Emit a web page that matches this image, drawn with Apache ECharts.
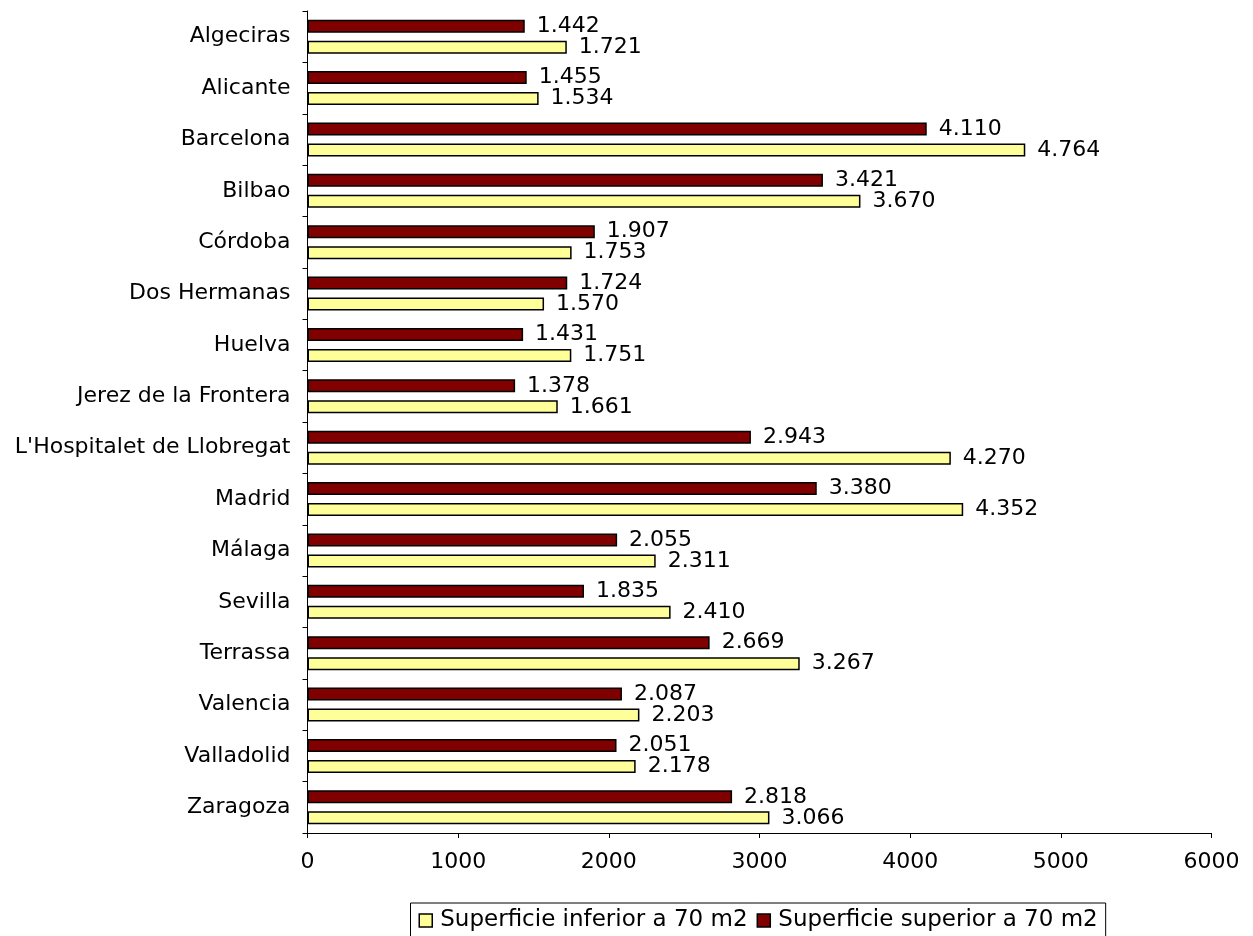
<!DOCTYPE html>
<html>
<head>
<meta charset="utf-8">
<script src="https://cdn.jsdelivr.net/npm/echarts@6/dist/echarts.min.js"></script>
<style>
  html, body { margin: 0; padding: 0; background: #fff; }
  #chart { width: 1253px; height: 936px; }
</style>
</head>
<body>
<div id="chart"></div>
<script>
// Cities, listed top to bottom
const cities = [
  'Algeciras', 'Alicante', 'Barcelona', 'Bilbao', 'Córdoba', 'Dos Hermanas',
  'Huelva', 'Jerez de la Frontera', "L'Hospitalet de Llobregat", 'Madrid',
  'Málaga', 'Sevilla', 'Terrassa', 'Valencia', 'Valladolid', 'Zaragoza'
];

const nameInferior = 'Superficie inferior a 70 m2';
const nameSuperior = 'Superficie superior a 70 m2';

// Dwellings over 70 m2
const superior = [1442, 1455, 4110, 3421, 1907, 1724, 1431, 1378, 2943, 3380, 2055, 1835, 2669, 2087, 2051, 2818];
// Dwellings under 70 m2
const inferior = [1721, 1534, 4764, 3670, 1753, 1570, 1751, 1661, 4270, 4352, 2311, 2410, 3267, 2203, 2178, 3066];

// Value axis
const xMin = 0, xMax = 6000, xStep = 1000;

const FONT = 'DejaVu Sans';
const FS = 22;

// Thousands separated by a dot: 1442 -> 1.442
function fmt(v) {
  return String(v).replace(/\B(?=(\d{3})+(?!\d))/g, '.');
}

const chart = echarts.init(document.getElementById('chart'), null, { renderer: 'canvas' });

function barSeries(name, data, color) {
  return {
    name: name,
    type: 'bar',
    data: data,
    barWidth: 13,
    barGap: '62%',
    itemStyle: { color: color, borderColor: '#000', borderWidth: 1.5 },
    label: {
      show: true,
      position: 'right',
      distance: 12,
      color: '#000',
      fontFamily: FONT,
      fontSize: FS,
      formatter: p => fmt(p.value)
    },
    emphasis: { disabled: true },
    animation: false
  };
}

chart.setOption({
  backgroundColor: '#fff',
  animation: false,
  textStyle: { fontFamily: FONT },
  grid: { left: 307.5, right: 41.5, top: 11, bottom: 103, containLabel: false },
  xAxis: {
    type: 'value',
    min: xMin, max: xMax, interval: xStep,
    axisLine: { show: true, lineStyle: { color: '#000', width: 1 } },
    axisTick: { show: true, length: 5, lineStyle: { color: '#000' } },
    splitLine: { show: false },
    axisLabel: {
      color: '#000', fontFamily: FONT, fontSize: FS, margin: 18,
      formatter: v => String(v)
    }
  },
  yAxis: {
    type: 'category',
    data: cities,
    inverse: true,
    axisLine: { show: true, lineStyle: { color: '#000', width: 1 } },
    axisTick: { show: true, length: 5, lineStyle: { color: '#000' } },
    axisLabel: { color: '#000', fontFamily: FONT, fontSize: FS, margin: 17 }
  },
  legend: {
    data: [nameInferior, nameSuperior],
    left: 410.5,
    top: 903,
    orient: 'horizontal',
    padding: [6, 8, 20, 8],
    itemWidth: 13,
    itemHeight: 13,
    itemGap: 9,
    icon: 'rect',
    borderColor: '#000',
    borderWidth: 1,
    itemStyle: { borderColor: '#000', borderWidth: 1.5 },
    textStyle: { color: '#000', fontFamily: FONT, fontSize: 23, padding: [0, 0, 0, 3] }
  },
  series: [
    barSeries(nameSuperior, superior, '#800000'),
    barSeries(nameInferior, inferior, '#FFFF99')
  ]
});
</script>
</body>
</html>
